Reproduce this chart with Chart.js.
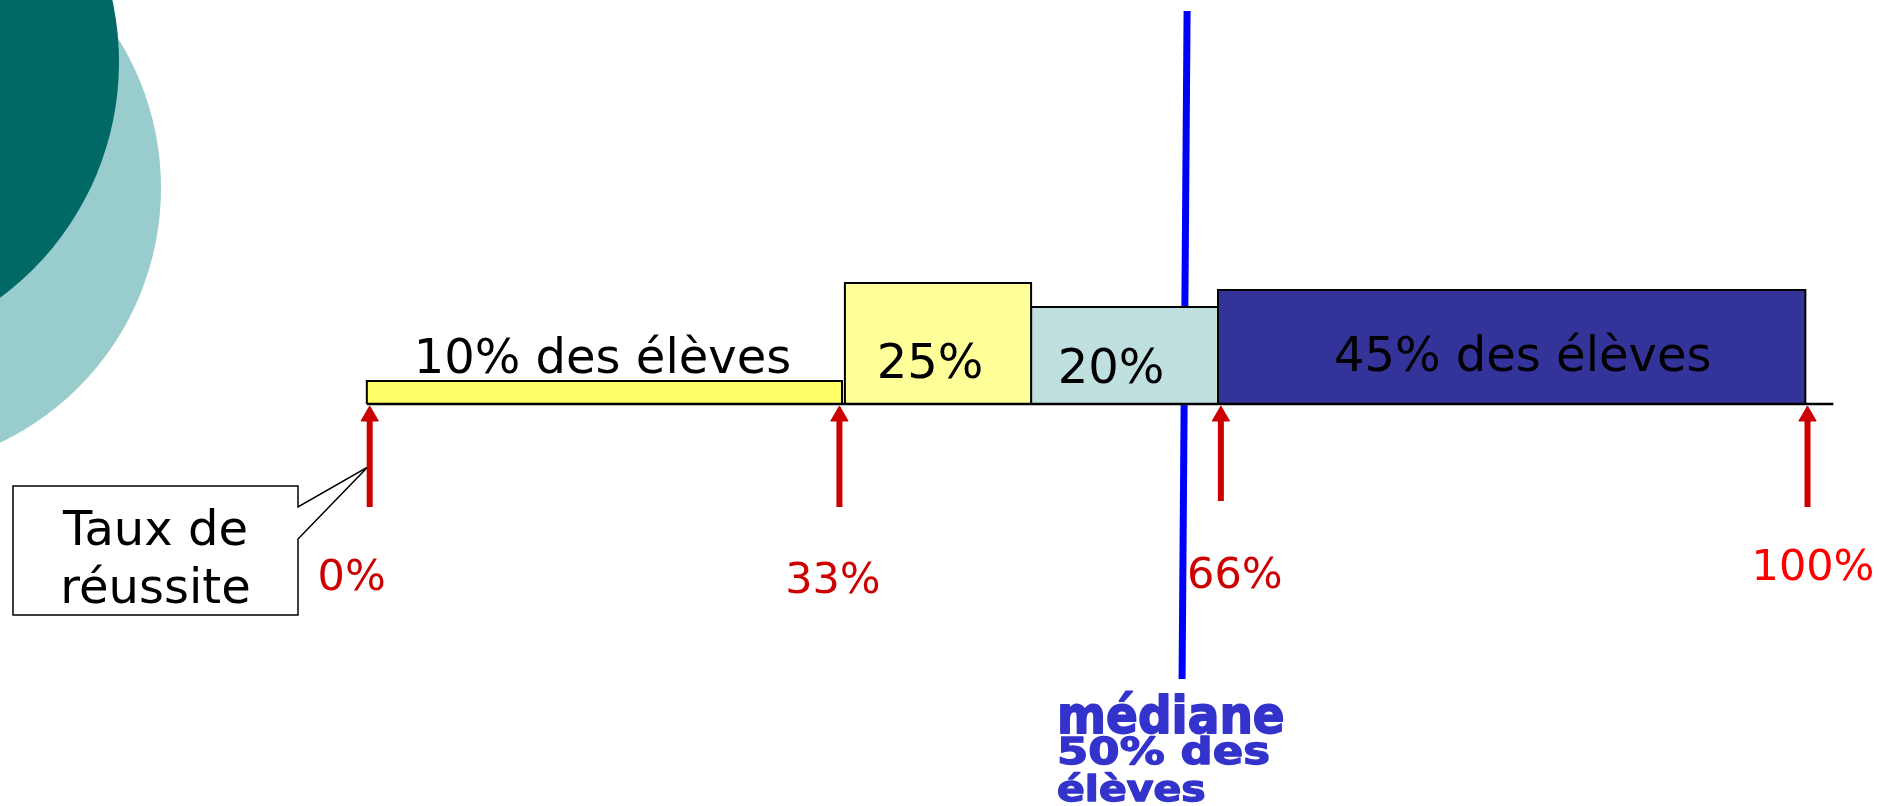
<!DOCTYPE html>
<html lang="fr">
<head>
  <meta charset="UTF-8" />
  <title>Taux de réussite et médiane</title>
  <script src="https://cdn.jsdelivr.net/npm/chart.js@4.4.0"></script>
  <style>
    html, body {
      margin: 0;
      padding: 0;
      background: #fff;
      overflow: hidden;
    }
    canvas { display: block; }
  </style>
</head>
<body>
  <canvas id="chart" width="1879" height="806"></canvas>

  <script>
    // groups of pupils, laid on a schematic success-rate axis
    const groupLabels = ['10% des élèves', '25%', '20%', '45% des élèves'];
    const groupStart = [-0.2, 33.05, 46.0, 59.0];
    const groupEnd = [32.85, 46.0, 59.0, 99.85];
    const groupHeight = [23, 121, 97, 114];

    // success-rate marks (red arrows)
    const tickPos = [0, 32.67, 59.2, 100];
    const tickLabels = ['0%', '33%', '66%', '100%'];
    const arrowBottom = [-103, -103, -97, -103];
    const arrowTop = -12;

    // base line under the blocks and the median line
    const baseLine = [-0.2, 101.8];
    const medianX = [56.85, 56.5];
    const medianY = [393, -275];
    const medianText = ['médiane', '50% des', 'élèves'];

    const calloutText = ['Taux de', 'réussite'];

    // styles / layout
    const groupColors = ['#ffff66', '#ffff99', '#c0e0e0', '#333399'];
    const labelDx = [-2, -8, -13.5, 11];
    const labelY = [31, 26, 21, 33];
    const tickDx = [-18, -6.5, 14, 5.5];
    const tickY = [-186, -189, -184, -176];
    const tickColors = ['#cc0000', '#cc0000', '#cc0000', '#ff0000'];

    const datasets = [];
    datasets.push({
      data: medianX.map((x, i) => ({ x, y: medianY[i] })),
      borderColor: '#0000ff',
      borderWidth: 7,
      pointRadius: 0,
      fill: false,
      order: 10
    });
    groupLabels.forEach((label, i) => {
      datasets.push({
        label,
        data: [
          { x: groupStart[i], y: 0 },
          { x: groupStart[i], y: groupHeight[i] },
          { x: groupEnd[i], y: groupHeight[i] },
          { x: groupEnd[i], y: 0 }
        ],
        borderColor: '#000',
        borderWidth: 2,
        backgroundColor: groupColors[i],
        fill: 'origin',
        pointRadius: 0,
        order: 5
      });
    });
    datasets.push({
      data: baseLine.map(x => ({ x, y: 0 })),
      borderColor: '#000',
      borderWidth: 2.5,
      pointRadius: 0,
      fill: false,
      order: 4
    });
    tickPos.forEach((x, i) => {
      datasets.push({
        data: [{ x, y: arrowBottom[i] }, { x, y: arrowTop }],
        borderColor: '#cc0000',
        borderWidth: 6,
        borderCapStyle: 'butt',
        pointRadius: [0, 10],
        pointStyle: 'triangle',
        pointBackgroundColor: '#cc0000',
        pointBorderColor: '#cc0000',
        pointBorderWidth: 1,
        fill: false,
        order: 1
      });
    });

    const decor = {
      id: 'decor',
      beforeDraw(chart) {
        const { ctx, width, height } = chart;
        ctx.save();
        ctx.fillStyle = '#fff';
        ctx.fillRect(0, 0, width, height);
        ctx.fillStyle = '#99cccc';
        ctx.beginPath();
        ctx.arc(-121, 188, 282, 0, Math.PI * 2);
        ctx.fill();
        ctx.fillStyle = '#006966';
        ctx.beginPath();
        ctx.arc(-174, 62, 293, 0, Math.PI * 2);
        ctx.fill();
        ctx.restore();
      },
      beforeDatasetsDraw(chart) {
        // "Taux de réussite" callout pointing at the 0% arrow
        const { ctx, scales: { x, y } } = chart;
        const tipX = x.getPixelForValue(0) - 2;
        const tipY = y.getPixelForValue(-63);
        ctx.save();
        ctx.beginPath();
        ctx.moveTo(13, 486);
        ctx.lineTo(298, 486);
        ctx.lineTo(298, 507);
        ctx.lineTo(tipX, tipY);
        ctx.lineTo(298, 539);
        ctx.lineTo(298, 615);
        ctx.lineTo(13, 615);
        ctx.closePath();
        ctx.fillStyle = '#fff';
        ctx.fill();
        ctx.lineWidth = 1.5;
        ctx.strokeStyle = '#000';
        ctx.stroke();
        ctx.fillStyle = '#000';
        ctx.font = '48px "DejaVu Sans"';
        ctx.textAlign = 'center';
        ctx.fillText(calloutText[0], 155.5, 545);
        ctx.fillText(calloutText[1], 155.5, 603);
        ctx.restore();
      },
      afterDatasetsDraw(chart) {
        const { ctx, scales: { x, y } } = chart;
        ctx.save();
        ctx.textAlign = 'center';
        ctx.textBaseline = 'alphabetic';

        ctx.fillStyle = '#000';
        ctx.font = '48px "DejaVu Sans"';
        groupLabels.forEach((t, i) => {
          const cx = (x.getPixelForValue(groupStart[i]) + x.getPixelForValue(groupEnd[i])) / 2 + labelDx[i];
          ctx.fillText(t, cx, y.getPixelForValue(labelY[i]));
        });

        ctx.font = '43px "DejaVu Sans"';
        tickLabels.forEach((t, i) => {
          ctx.fillStyle = tickColors[i];
          ctx.fillText(t, x.getPixelForValue(tickPos[i]) + tickDx[i], y.getPixelForValue(tickY[i]));
        });

        // median caption, squeezed like the original text box
        const left = x.getPixelForValue(medianX[1]) - 125;
        const bottom = y.getPixelForValue(medianY[1]);
        const lines = [
          { size: 47, dy: 54, sy: 1.1 },
          { size: 45, dy: 85, sy: 0.82 },
          { size: 41, dy: 122, sy: 0.88 }
        ];
        ctx.fillStyle = '#3333cc';
        ctx.strokeStyle = '#3333cc';
        ctx.lineWidth = 1.6;
        ctx.lineJoin = 'round';
        ctx.textAlign = 'left';
        medianText.forEach((t, i) => {
          const l = lines[i];
          ctx.save();
          ctx.translate(left, bottom + l.dy);
          ctx.scale(1, l.sy);
          ctx.font = 'bold ' + l.size + 'px "DejaVu Sans"';
          ctx.fillText(t, 0, 0);
          ctx.strokeText(t, 0, 0);
          ctx.restore();
        });
        ctx.restore();
      }
    };

    new Chart(document.getElementById('chart'), {
      type: 'line',
      data: { datasets },
      options: {
        responsive: false,
        animation: false,
        events: [],
        layout: { padding: 0, autoPadding: false },
        elements: { line: { tension: 0, borderJoinStyle: 'miter' } },
        scales: {
          x: { type: 'linear', display: false, min: -25.713, max: 104.973 },
          y: { type: 'linear', display: false, min: -402, max: 404 }
        },
        plugins: {
          legend: { display: false },
          tooltip: { enabled: false }
        }
      },
      plugins: [decor]
    });
  </script>
</body>
</html>
